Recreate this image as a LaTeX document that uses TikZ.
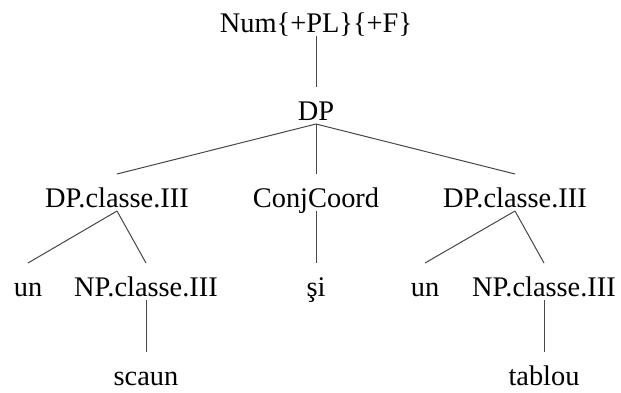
\documentclass[tikz,border=0pt]{standalone}
\usepackage{fontspec}
\setmainfont{Liberation Serif}
\begin{document}
\begin{tikzpicture}[x=1pt,y=1pt,
  lab/.style={anchor=base,inner sep=0pt,outer sep=0pt,text height=33pt,text depth=4pt,font=\fontsize{28.4}{30}\selectfont,text=black},
  edge/.style={draw=black!72,line width=1pt}]
\useasboundingbox[fill=white] (0,0) rectangle (621,-392);
\node[lab] (num) at (316,-32) {Num\{+PL\}\{+F\}};
\node[lab] (dp) at (316,-120) {DP};
\node[lab] (dpl) at (117,-207) {DP.classe.III};
\node[lab] (conj) at (316,-207) {ConjCoord};
\node[lab] (dpr) at (515,-207) {DP.classe.III};
\node[lab] (unl) at (28,-296) {un};
\node[lab] (npl) at (146,-296) {NP.classe.III};
\node[lab] (si) at (316,-296) {şi};
\node[lab] (unr) at (425,-296) {un};
\node[lab] (npr) at (544,-296) {NP.classe.III};
\node[lab] (scaun) at (146,-385) {scaun};
\node[lab] (tablou) at (544,-385) {tablou};
\draw[edge] (num.south) -- (dp.north);
\draw[edge] (dp.south) -- (dpl.north);
\draw[edge] (dp.south) -- (conj.north);
\draw[edge] (dp.south) -- (dpr.north);
\draw[edge] (dpl.south) -- (unl.north);
\draw[edge] (dpl.south) -- (npl.north);
\draw[edge] (conj.south) -- (si.north);
\draw[edge] (dpr.south) -- (unr.north);
\draw[edge] (dpr.south) -- (npr.north);
\draw[edge] (npl.south) -- (scaun.north);
\draw[edge] (npr.south) -- (tablou.north);
\end{tikzpicture}
\end{document}
